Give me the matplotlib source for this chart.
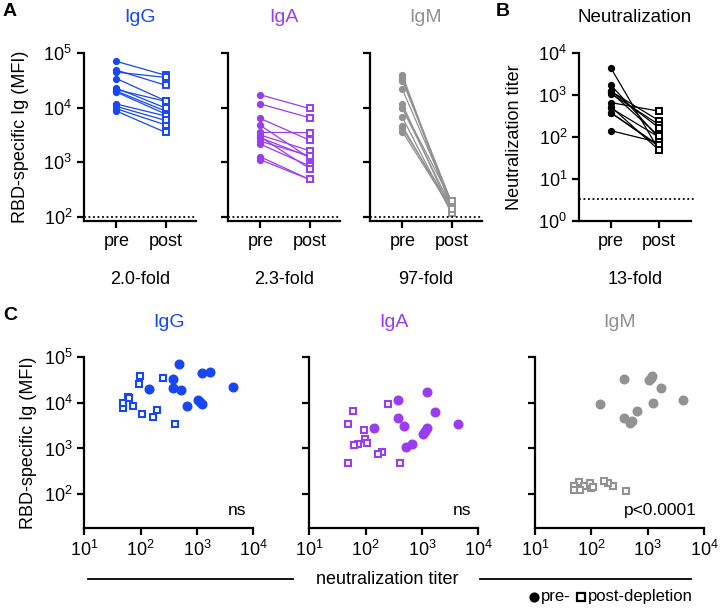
import matplotlib
matplotlib.use('Agg')
import matplotlib.pyplot as plt
import numpy as np
from matplotlib.lines import Line2D
from matplotlib.ticker import NullLocator, FixedLocator, LogFormatterSciNotation

plt.rcParams['font.family'] = ['Liberation Sans', 'DejaVu Sans']
plt.rcParams['mathtext.default'] = 'regular'

# one entry per donor (pre- and post-depletion)
titer_pre = [487, 1215, 1710, 376, 141, 376, 522, 4310, 658, 1060, 1230, 1150]
titer_post = [99, 246, 95, 60, 74, 63, 49, 49, 413, 198, 166, 105]
igg_pre = [70300, 44600, 48400, 34000, 20000, 21300, 19200, 22700, 8600, 11600, 9500, 10500]
igg_post = [39000, 35700, 25700, 13300, 8600, 13000, 7600, 9800, 3500, 7000, 4800, 5800]
iga_pre = [3130, 17100, 6300, 11600, 2790, 4700, 1100, 3500, 1245, 2120, 2880, 2400]
iga_post = [1620, 9600, 2520, 6500, 1240, 1180, 480, 3470, 480, 850, 760, 1300]
igm_pre = [3600, 39000, 21500, 34000, 9600, 4600, 4100, 11500, 6600, 31000, 10000, 36000]
igm_post = [135, 151, 174, 183, 147, 124, 151, 120, 115, 177, 193, 140]

isotypes = ['IgG', 'IgA', 'IgM']
colors = ['#1747f2', '#9a3cf0', '#929292']
fold_labels = ['2.0-fold', '2.3-fold', '97-fold']
neut_fold = '13-fold'
mfi_limit = 100
neut_limit = 3.3
stats = ['ns', 'ns', 'p<0.0001']

W, H = 720, 608
fig = plt.figure(figsize=(7.2, 6.08), dpi=100)


def box(l, t, r, b):
    return [l / W, 1 - b / H, (r - l) / W, (b - t) / H]


def style(ax):
    for s in ['top', 'right']:
        ax.spines[s].set_visible(False)
    for s in ['left', 'bottom']:
        ax.spines[s].set_linewidth(1.6)
    ax.tick_params(width=1.6, length=5, labelsize=13, color='black')


def log_y(ax, lo, hi, ticks, labels=True):
    ax.set_yscale('log')
    ax.set_ylim(lo, hi)
    ax.yaxis.set_major_locator(FixedLocator(ticks))
    ax.yaxis.set_minor_locator(NullLocator())
    ax.yaxis.set_major_formatter(LogFormatterSciNotation())
    if not labels:
        ax.set_yticklabels([])


pre_sets = [igg_pre, iga_pre, igm_pre]
post_sets = [igg_post, iga_post, igm_post]

# ---- panel A ----
a_left = [84, 228, 370]
for i in range(3):
    ax = fig.add_axes(box(a_left[i], 53, a_left[i] + 112, 221))
    style(ax)
    c = colors[i]
    for p, q in zip(pre_sets[i], post_sets[i]):
        ax.plot([0, 1], [p, q], color=c, lw=0.9)
    ax.plot(np.zeros(len(pre_sets[i])), pre_sets[i], 'o', color=c, ms=4.2)
    ax.plot(np.ones(len(post_sets[i])), post_sets[i], 's', mfc='white', mec=c, ms=4.4, mew=1.4)
    ax.axhline(mfi_limit, color='black', ls=(0, (1, 1.5)), lw=1.3)
    log_y(ax, 83, 1e5, [1e2, 1e3, 1e4, 1e5], labels=(i == 0))
    ax.set_xlim(-0.66, 1.62)
    ax.set_xticks([0, 1])
    ax.set_xticklabels(['pre', 'post'])
    ax.set_title(isotypes[i], color=c, fontsize=14, pad=22)
    ax.text(0.5, -0.35, fold_labels[i], transform=ax.transAxes, ha='center', va='center', fontsize=13)
    if i == 0:
        ax.set_ylabel('RBD-specific Ig (MFI)', fontsize=13)
        ax.yaxis.set_label_coords(-0.49, 0.5)

# ---- panel B ----
ax = fig.add_axes(box(579, 53, 691, 221))
style(ax)
for p, q in zip(titer_pre, titer_post):
    ax.plot([0, 1], [p, q], color='black', lw=0.9)
ax.plot(np.zeros(len(titer_pre)), titer_pre, 'o', color='black', ms=4.2)
ax.plot(np.ones(len(titer_post)), titer_post, 's', mfc='white', mec='black', ms=4.4, mew=1.4)
ax.plot([-0.67, 1.75], [neut_limit, neut_limit], color='black', ls=(0, (1, 1.5)), lw=1.3, clip_on=False)
log_y(ax, 1, 1e4, [1e0, 1e1, 1e2, 1e3, 1e4])
ax.set_xlim(-0.67, 1.67)
ax.set_xticks([0, 1])
ax.set_xticklabels(['pre', 'post'])
ax.set_title('Neutralization', fontsize=13.5, pad=22)
ax.text(0.5, -0.35, neut_fold, transform=ax.transAxes, ha='center', va='center', fontsize=13)
ax.set_ylabel('Neutralization titer', fontsize=13)
ax.yaxis.set_label_coords(-0.5, 0.5)

# ---- panel C ----
c_left = [84.3, 309.3, 535]
for i in range(3):
    ax = fig.add_axes(box(c_left[i], 357.3, c_left[i] + 169, 527.7))
    style(ax)
    c = colors[i]
    ax.plot(titer_pre, pre_sets[i], 'o', color=c, ms=6.2, ls='none')
    ax.plot(titer_post, post_sets[i], 's', mfc='white', mec=c, ms=5.0, mew=1.5, ls='none')
    ax.set_xscale('log')
    ax.set_xlim(10, 1e4)
    ax.xaxis.set_major_locator(FixedLocator([1e1, 1e2, 1e3, 1e4]))
    ax.xaxis.set_minor_locator(NullLocator())
    ax.xaxis.set_major_formatter(LogFormatterSciNotation())
    log_y(ax, 18.3, 1e5, [1e2, 1e3, 1e4, 1e5], labels=(i == 0))
    ax.set_title(isotypes[i], color=c, fontsize=14, pad=22)
    ax.text(0.96, 0.1, stats[i], transform=ax.transAxes, ha='right', va='center', fontsize=12.5)
    if i == 0:
        ax.set_ylabel('RBD-specific Ig (MFI)', fontsize=13)
        ax.yaxis.set_label_coords(-0.28, 0.5)

# shared x label with line
yl = 1 - 579 / H
fig.add_artist(Line2D([88 / W, 293 / W], [yl, yl], color='black', lw=1.3))
fig.add_artist(Line2D([480 / W, 691 / W], [yl, yl], color='black', lw=1.3))
fig.text(387 / W, yl, 'neutralization titer', ha='center', va='center', fontsize=13)

# legend
yg = 1 - 597 / H
fig.add_artist(Line2D([534 / W], [yg], marker='o', color='black', ms=6.3, ls='none'))
fig.text(541 / W, yg, 'pre-', ha='left', va='center', fontsize=12)
fig.add_artist(Line2D([581 / W], [yg], marker='s', mfc='white', mec='black', ms=6.0, mew=1.6, ls='none'))
fig.text(588 / W, yg, 'post-depletion', ha='left', va='center', fontsize=12)

# panel letters
fig.text(3 / W, 1 - 12 / H, 'A', fontsize=14, fontweight='bold', va='center')
fig.text(496 / W, 1 - 11 / H, 'B', fontsize=14, fontweight='bold', va='center')
fig.text(3 / W, 1 - 315 / H, 'C', fontsize=14, fontweight='bold', va='center')

fig.savefig('out.png', dpi=100)
